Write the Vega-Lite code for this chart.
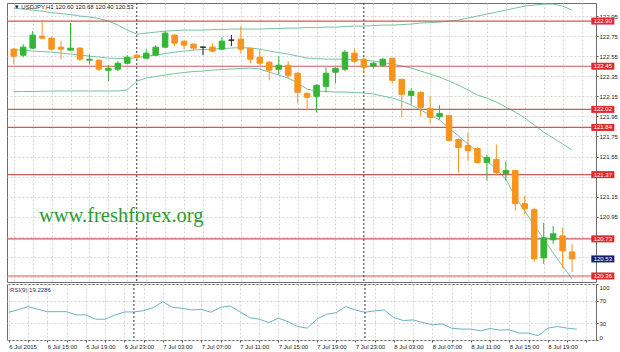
{
  "$schema": "https://vega.github.io/schema/vega-lite/v6.json",
  "background": "white",
  "padding": {"left": 5, "top": 2, "right": 0, "bottom": 0},
  "spacing": 2,
  "bounds": "flush",
  "config": {
    "view": {"stroke": "#6b6b6b", "strokeWidth": 1},
    "font": "Liberation Sans",
    "axis": {"labelFont": "Liberation Sans", "labelFontSize": 6, "labelColor": "#222222", "tickColor": "#555555"}
  },
  "datasets": {
    "candles": [
      {"t": "2015-07-06T11:00", "o": 122.62, "h": 122.63, "l": 122.47, "c": 122.55, "bu": 123.029, "bm": 122.611, "bl": 122.196, "rsi": 49.6},
      {"t": "2015-07-06T12:00", "o": 122.56, "h": 122.67, "l": 122.54, "c": 122.64, "bu": 123.019, "bm": 122.611, "bl": 122.198, "rsi": 54.2},
      {"t": "2015-07-06T13:00", "o": 122.63, "h": 122.80, "l": 122.62, "c": 122.76, "bu": 123.009, "bm": 122.601, "bl": 122.198, "rsi": 59.5},
      {"t": "2015-07-06T14:00", "o": 122.75, "h": 122.91, "l": 122.72, "c": 122.73, "bu": 122.999, "bm": 122.596, "bl": 122.200, "rsi": 54.9},
      {"t": "2015-07-06T15:00", "o": 122.73, "h": 122.74, "l": 122.61, "c": 122.62, "bu": 122.984, "bm": 122.591, "bl": 122.203, "rsi": 50.6},
      {"t": "2015-07-06T16:00", "o": 122.64, "h": 122.70, "l": 122.52, "c": 122.62, "bu": 122.974, "bm": 122.581, "bl": 122.203, "rsi": 50.6},
      {"t": "2015-07-06T17:00", "o": 122.61, "h": 122.88, "l": 122.61, "c": 122.63, "bu": 122.965, "bm": 122.571, "bl": 122.203, "rsi": 50.6},
      {"t": "2015-07-06T18:00", "o": 122.63, "h": 122.64, "l": 122.50, "c": 122.52, "bu": 122.950, "bm": 122.561, "bl": 122.203, "rsi": 44.8},
      {"t": "2015-07-06T19:00", "o": 122.51, "h": 122.57, "l": 122.47, "c": 122.52, "bu": 122.940, "bm": 122.551, "bl": 122.203, "rsi": 44.8},
      {"t": "2015-07-06T20:00", "o": 122.51, "h": 122.52, "l": 122.40, "c": 122.42, "bu": 122.925, "bm": 122.541, "bl": 122.203, "rsi": 37.2},
      {"t": "2015-07-06T21:00", "o": 122.41, "h": 122.46, "l": 122.30, "c": 122.43, "bu": 122.900, "bm": 122.531, "bl": 122.203, "rsi": 37.2},
      {"t": "2015-07-06T22:00", "o": 122.42, "h": 122.50, "l": 122.40, "c": 122.48, "bu": 122.860, "bm": 122.526, "bl": 122.203, "rsi": 44.2},
      {"t": "2015-07-06T23:00", "o": 122.48, "h": 122.56, "l": 122.47, "c": 122.54, "bu": 122.810, "bm": 122.526, "bl": 122.213, "rsi": 50.1},
      {"t": "2015-07-07T00:00", "o": 122.56, "h": 122.57, "l": 122.52, "c": 122.54, "bu": 122.770, "bm": 122.536, "bl": 122.302, "rsi": 50.1},
      {"t": "2015-07-07T01:00", "o": 122.53, "h": 122.62, "l": 122.52, "c": 122.58, "bu": 122.780, "bm": 122.551, "bl": 122.332, "rsi": 52.4},
      {"t": "2015-07-07T02:00", "o": 122.56, "h": 122.66, "l": 122.55, "c": 122.64, "bu": 122.790, "bm": 122.561, "bl": 122.347, "rsi": 57.7},
      {"t": "2015-07-07T03:00", "o": 122.64, "h": 122.80, "l": 122.63, "c": 122.78, "bu": 122.800, "bm": 122.576, "bl": 122.362, "rsi": 68.3},
      {"t": "2015-07-07T04:00", "o": 122.76, "h": 122.77, "l": 122.65, "c": 122.68, "bu": 122.805, "bm": 122.591, "bl": 122.377, "rsi": 58.4},
      {"t": "2015-07-07T05:00", "o": 122.70, "h": 122.70, "l": 122.62, "c": 122.66, "bu": 122.810, "bm": 122.601, "bl": 122.387, "rsi": 56.6},
      {"t": "2015-07-07T06:00", "o": 122.67, "h": 122.68, "l": 122.61, "c": 122.63, "bu": 122.810, "bm": 122.611, "bl": 122.397, "rsi": 53.6},
      {"t": "2015-07-07T07:00", "o": 122.64, "h": 122.645, "l": 122.56, "c": 122.64, "bu": 122.810, "bm": 122.616, "bl": 122.402, "rsi": 54.9},
      {"t": "2015-07-07T08:00", "o": 122.64, "h": 122.68, "l": 122.59, "c": 122.60, "bu": 122.815, "bm": 122.621, "bl": 122.412, "rsi": 49.6},
      {"t": "2015-07-07T09:00", "o": 122.62, "h": 122.74, "l": 122.61, "c": 122.70, "bu": 122.815, "bm": 122.626, "bl": 122.417, "rsi": 58.4},
      {"t": "2015-07-07T10:00", "o": 122.71, "h": 122.76, "l": 122.65, "c": 122.71, "bu": 122.820, "bm": 122.631, "bl": 122.422, "rsi": 60.7},
      {"t": "2015-07-07T11:00", "o": 122.72, "h": 122.85, "l": 122.58, "c": 122.62, "bu": 122.820, "bm": 122.636, "bl": 122.427, "rsi": 50.6},
      {"t": "2015-07-07T12:00", "o": 122.63, "h": 122.63, "l": 122.48, "c": 122.52, "bu": 122.820, "bm": 122.631, "bl": 122.432, "rsi": 40.0},
      {"t": "2015-07-07T13:00", "o": 122.54, "h": 122.62, "l": 122.46, "c": 122.48, "bu": 122.820, "bm": 122.621, "bl": 122.422, "rsi": 37.2},
      {"t": "2015-07-07T14:00", "o": 122.49, "h": 122.50, "l": 122.31, "c": 122.41, "bu": 122.825, "bm": 122.601, "bl": 122.392, "rsi": 31.2},
      {"t": "2015-07-07T15:00", "o": 122.42, "h": 122.55, "l": 122.37, "c": 122.46, "bu": 122.825, "bm": 122.586, "bl": 122.362, "rsi": 38.9},
      {"t": "2015-07-07T16:00", "o": 122.46, "h": 122.50, "l": 122.33, "c": 122.36, "bu": 122.830, "bm": 122.571, "bl": 122.332, "rsi": 32.9},
      {"t": "2015-07-07T17:00", "o": 122.38, "h": 122.39, "l": 122.08, "c": 122.19, "bu": 122.830, "bm": 122.551, "bl": 122.282, "rsi": 24.1},
      {"t": "2015-07-07T18:00", "o": 122.18, "h": 122.19, "l": 122.01, "c": 122.14, "bu": 122.835, "bm": 122.531, "bl": 122.222, "rsi": 21.2},
      {"t": "2015-07-07T19:00", "o": 122.15, "h": 122.27, "l": 121.99, "c": 122.26, "bu": 122.835, "bm": 122.526, "bl": 122.203, "rsi": 37.2},
      {"t": "2015-07-07T20:00", "o": 122.25, "h": 122.44, "l": 122.19, "c": 122.38, "bu": 122.840, "bm": 122.521, "bl": 122.198, "rsi": 46.0},
      {"t": "2015-07-07T21:00", "o": 122.39, "h": 122.44, "l": 122.28, "c": 122.43, "bu": 122.840, "bm": 122.521, "bl": 122.193, "rsi": 48.8},
      {"t": "2015-07-07T22:00", "o": 122.42, "h": 122.61, "l": 122.40, "c": 122.59, "bu": 122.845, "bm": 122.521, "bl": 122.193, "rsi": 59.5},
      {"t": "2015-07-07T23:00", "o": 122.58, "h": 122.62, "l": 122.48, "c": 122.50, "bu": 122.850, "bm": 122.516, "bl": 122.188, "rsi": 53.6},
      {"t": "2015-07-08T00:00", "o": 122.52, "h": 122.54, "l": 122.38, "c": 122.44, "bu": 122.850, "bm": 122.511, "bl": 122.183, "rsi": 49.6},
      {"t": "2015-07-08T01:00", "o": 122.45, "h": 122.49, "l": 122.43, "c": 122.48, "bu": 122.855, "bm": 122.501, "bl": 122.173, "rsi": 51.9},
      {"t": "2015-07-08T02:00", "o": 122.46, "h": 122.53, "l": 122.44, "c": 122.52, "bu": 122.860, "bm": 122.486, "bl": 122.153, "rsi": 53.6},
      {"t": "2015-07-08T03:00", "o": 122.53, "h": 122.53, "l": 122.28, "c": 122.31, "bu": 122.860, "bm": 122.471, "bl": 122.133, "rsi": 40.0},
      {"t": "2015-07-08T04:00", "o": 122.32, "h": 122.32, "l": 121.94, "c": 122.17, "bu": 122.865, "bm": 122.452, "bl": 122.103, "rsi": 34.7},
      {"t": "2015-07-08T05:00", "o": 122.16, "h": 122.23, "l": 122.07, "c": 122.20, "bu": 122.870, "bm": 122.432, "bl": 122.063, "rsi": 35.9},
      {"t": "2015-07-08T06:00", "o": 122.19, "h": 122.20, "l": 121.95, "c": 122.04, "bu": 122.880, "bm": 122.402, "bl": 122.013, "rsi": 31.2},
      {"t": "2015-07-08T07:00", "o": 122.03, "h": 122.15, "l": 121.88, "c": 121.94, "bu": 122.885, "bm": 122.372, "bl": 121.964, "rsi": 27.1},
      {"t": "2015-07-08T08:00", "o": 121.95, "h": 122.06, "l": 121.92, "c": 121.98, "bu": 122.890, "bm": 122.342, "bl": 121.914, "rsi": 28.8},
      {"t": "2015-07-08T09:00", "o": 121.96, "h": 121.96, "l": 121.70, "c": 121.71, "bu": 122.900, "bm": 122.302, "bl": 121.834, "rsi": 21.2},
      {"t": "2015-07-08T10:00", "o": 121.72, "h": 121.73, "l": 121.39, "c": 121.64, "bu": 122.910, "bm": 122.262, "bl": 121.754, "rsi": 19.5},
      {"t": "2015-07-08T11:00", "o": 121.66, "h": 121.79, "l": 121.51, "c": 121.61, "bu": 122.930, "bm": 122.213, "bl": 121.675, "rsi": 19.5},
      {"t": "2015-07-08T12:00", "o": 121.63, "h": 121.64, "l": 121.48, "c": 121.49, "bu": 122.950, "bm": 122.163, "bl": 121.595, "rsi": 16.5},
      {"t": "2015-07-08T13:00", "o": 121.49, "h": 121.57, "l": 121.31, "c": 121.54, "bu": 122.970, "bm": 122.133, "bl": 121.505, "rsi": 20.5},
      {"t": "2015-07-08T14:00", "o": 121.52, "h": 121.67, "l": 121.37, "c": 121.39, "bu": 122.989, "bm": 122.093, "bl": 121.426, "rsi": 17.7},
      {"t": "2015-07-08T15:00", "o": 121.38, "h": 121.50, "l": 121.31, "c": 121.41, "bu": 123.009, "bm": 122.043, "bl": 121.326, "rsi": 18.2},
      {"t": "2015-07-08T16:00", "o": 121.41, "h": 121.42, "l": 121.01, "c": 121.08, "bu": 123.029, "bm": 121.993, "bl": 121.147, "rsi": 12.4},
      {"t": "2015-07-08T17:00", "o": 121.08, "h": 121.16, "l": 120.97, "c": 121.03, "bu": 123.049, "bm": 121.934, "bl": 121.007, "rsi": 12.4},
      {"t": "2015-07-08T18:00", "o": 121.02, "h": 121.04, "l": 120.50, "c": 120.53, "bu": 123.059, "bm": 121.864, "bl": 120.868, "rsi": 7.6},
      {"t": "2015-07-08T19:00", "o": 120.54, "h": 120.89, "l": 120.48, "c": 120.74, "bu": 123.069, "bm": 121.794, "bl": 120.728, "rsi": 21.2},
      {"t": "2015-07-08T20:00", "o": 120.72, "h": 120.86, "l": 120.68, "c": 120.78, "bu": 123.069, "bm": 121.734, "bl": 120.589, "rsi": 24.1},
      {"t": "2015-07-08T21:00", "o": 120.76, "h": 120.84, "l": 120.44, "c": 120.61, "bu": 123.049, "bm": 121.675, "bl": 120.460, "rsi": 21.2},
      {"t": "2015-07-08T22:00", "o": 120.60, "h": 120.68, "l": 120.40, "c": 120.53, "bu": 123.009, "bm": 121.615, "bl": 120.330, "rsi": 19.23}
    ],
    "levels": [
      {"v": 122.90, "kind": "level"},
      {"v": 122.45, "kind": "level"},
      {"v": 122.02, "kind": "level"},
      {"v": 121.84, "kind": "level"},
      {"v": 121.37, "kind": "level"},
      {"v": 120.73, "kind": "level"},
      {"v": 120.36, "kind": "level"},
      {"v": 120.53, "kind": "bid"}
    ],
    "days": [
      {"t": "2015-07-07T00:00"},
      {"t": "2015-07-08T00:00"}
    ]
  },
  "vconcat": [
    {
      "width": 589,
      "height": 279,
      "data": {"name": "candles"},
      "layer": [
        {
          "mark": {"type": "line", "color": "#78c2a2", "strokeWidth": 1, "clip": true},
          "encoding": {
            "x": {"field": "t", "type": "temporal",
              "scale": {"domain": [{"year": 2015, "month": 7, "date": 6, "hours": 10, "minutes": 49}, {"year": 2015, "month": 7, "date": 9, "hours": 0, "minutes": 0}]},
              "axis": {"labels": false, "ticks": false, "domain": false, "grid": true, "gridColor": "#d4d4d4", "gridDash": [2, 2], "title": null,
                "tickCount": 200, "minExtent": 0, "maxExtent": 0, "offset": 0, "labelPadding": 0, "tickSize": 0,
                "values": [
                  {"year": 2015, "month": 7, "date": 6, "hours": 11}, {"year": 2015, "month": 7, "date": 6, "hours": 13}, {"year": 2015, "month": 7, "date": 6, "hours": 15}, {"year": 2015, "month": 7, "date": 6, "hours": 17}, {"year": 2015, "month": 7, "date": 6, "hours": 19}, {"year": 2015, "month": 7, "date": 6, "hours": 21}, {"year": 2015, "month": 7, "date": 6, "hours": 23},
                  {"year": 2015, "month": 7, "date": 7, "hours": 1}, {"year": 2015, "month": 7, "date": 7, "hours": 3}, {"year": 2015, "month": 7, "date": 7, "hours": 5}, {"year": 2015, "month": 7, "date": 7, "hours": 7}, {"year": 2015, "month": 7, "date": 7, "hours": 9}, {"year": 2015, "month": 7, "date": 7, "hours": 11}, {"year": 2015, "month": 7, "date": 7, "hours": 13}, {"year": 2015, "month": 7, "date": 7, "hours": 15}, {"year": 2015, "month": 7, "date": 7, "hours": 17}, {"year": 2015, "month": 7, "date": 7, "hours": 19}, {"year": 2015, "month": 7, "date": 7, "hours": 21}, {"year": 2015, "month": 7, "date": 7, "hours": 23},
                  {"year": 2015, "month": 7, "date": 8, "hours": 1}, {"year": 2015, "month": 7, "date": 8, "hours": 3}, {"year": 2015, "month": 7, "date": 8, "hours": 5}, {"year": 2015, "month": 7, "date": 8, "hours": 7}, {"year": 2015, "month": 7, "date": 8, "hours": 9}, {"year": 2015, "month": 7, "date": 8, "hours": 11}, {"year": 2015, "month": 7, "date": 8, "hours": 13}, {"year": 2015, "month": 7, "date": 8, "hours": 15}, {"year": 2015, "month": 7, "date": 8, "hours": 17}, {"year": 2015, "month": 7, "date": 8, "hours": 19}, {"year": 2015, "month": 7, "date": 8, "hours": 21}, {"year": 2015, "month": 7, "date": 8, "hours": 23}
                ]}},
            "y": {"field": "bu", "type": "quantitative",
              "scale": {"domain": [120.30, 123.08], "zero": false, "nice": false},
              "axis": {"orient": "right", "tickCount": 200, "values": [122.95, 122.75, 122.55, 122.35, 122.15, 121.95, 121.75, 121.55, 121.35, 121.15, 120.95, 120.75, 120.55, 120.35],
                "labelExpr": "((datum.value > 121.3 && datum.value < 121.4) || datum.value < 120.8) ? '' : format(datum.value, '.2f')",
                "labelOverlap": false, "tickSize": 2, "labelPadding": 1, "domain": false, "grid": true, "gridColor": "#d4d4d4", "gridDash": [2, 2], "title": null}}
          }
        },
        {
          "mark": {"type": "line", "color": "#78c2a2", "strokeWidth": 1, "clip": true},
          "encoding": {
            "x": {"field": "t", "type": "temporal"},
            "y": {"field": "bm", "type": "quantitative"}
          }
        },
        {
          "mark": {"type": "line", "color": "#78c2a2", "strokeWidth": 1, "clip": true},
          "encoding": {
            "x": {"field": "t", "type": "temporal"},
            "y": {"field": "bl", "type": "quantitative"}
          }
        },
        {
          "data": {"name": "levels"},
          "transform": [{"filter": "datum.kind == 'level'"}],
          "mark": {"type": "rule", "color": "#cc5a5a", "strokeWidth": 1.2},
          "encoding": {"y": {"field": "v", "type": "quantitative"}}
        },
        {
          "data": {"name": "days"},
          "mark": {"type": "rule", "color": "#333333", "strokeDash": [2, 2], "strokeWidth": 1},
          "encoding": {"x": {"field": "t", "type": "temporal"}}
        },
        {
          "mark": {"type": "rule", "strokeWidth": 1, "clip": true},
          "encoding": {
            "x": {"field": "t", "type": "temporal"},
            "y": {"field": "l", "type": "quantitative"},
            "y2": {"field": "h"},
            "color": {"condition": [{"test": "datum.c == datum.o", "value": "#222222"}, {"test": "datum.c > datum.o", "value": "#35b535"}], "value": "#f7941d"}
          }
        },
        {
          "mark": {"type": "bar", "width": 5.5, "strokeWidth": 1, "clip": true},
          "encoding": {
            "x": {"field": "t", "type": "temporal"},
            "y": {"field": "o", "type": "quantitative"},
            "y2": {"field": "c"},
            "fill": {"condition": [{"test": "datum.c == datum.o", "value": "#222222"}, {"test": "datum.c > datum.o", "value": "#35b535"}], "value": "#f7941d"},
            "stroke": {"condition": [{"test": "datum.c == datum.o", "value": "#222222"}, {"test": "datum.c > datum.o", "value": "#35b535"}], "value": "#f7941d"}
          }
        },
        {
          "data": {"values": [{"label": "▼  USDJPY,H1  120.60 120.68 120.40 120.53"}]},
          "mark": {"type": "text", "align": "left", "baseline": "middle", "fontSize": 6, "color": "#222222"},
          "encoding": {
            "x": {"datum": {"year": 2015, "month": 7, "date": 6, "hours": 11, "minutes": 0}, "type": "temporal"},
            "y": {"datum": 123.045, "type": "quantitative"},
            "text": {"field": "label"}
          }
        },
        {
          "data": {"values": [{"label": "www.freshforex.org"}]},
          "mark": {"type": "text", "align": "left", "baseline": "alphabetic", "fontSize": 20.5, "font": "Liberation Serif", "color": "#2f9a35"},
          "encoding": {
            "x": {"datum": {"year": 2015, "month": 7, "date": 6, "hours": 13, "minutes": 40}, "type": "temporal"},
            "y": {"datum": 120.90, "type": "quantitative"},
            "text": {"field": "label"}
          }
        },
        {
          "data": {"name": "levels"},
          "mark": {"type": "tick", "orient": "horizontal", "size": 23, "thickness": 7, "opacity": 1, "clip": false},
          "encoding": {
            "x": {"datum": {"year": 2015, "month": 7, "date": 9, "hours": 1, "minutes": 15}, "type": "temporal"},
            "y": {"field": "v", "type": "quantitative"},
            "color": {"condition": {"test": "datum.kind == 'bid'", "value": "#14206e"}, "value": "#e02a2a"}
          }
        },
        {
          "data": {"name": "levels"},
          "mark": {"type": "text", "align": "center", "baseline": "middle", "fontSize": 6, "color": "white", "clip": false},
          "encoding": {
            "x": {"datum": {"year": 2015, "month": 7, "date": 9, "hours": 1, "minutes": 15}, "type": "temporal"},
            "y": {"field": "v", "type": "quantitative"},
            "text": {"field": "v", "type": "quantitative", "format": ".2f"}
          }
        }
      ]
    },
    {
      "width": 589,
      "height": 56,
      "data": {"name": "candles"},
      "layer": [
        {
          "mark": {"type": "line", "color": "#6ab2c2", "strokeWidth": 1},
          "encoding": {
            "x": {"field": "t", "type": "temporal",
              "scale": {"domain": [{"year": 2015, "month": 7, "date": 6, "hours": 10, "minutes": 49}, {"year": 2015, "month": 7, "date": 9, "hours": 0, "minutes": 0}]},
              "axis": {"orient": "bottom", "domain": false, "grid": true, "gridColor": "#d4d4d4", "gridDash": [2, 2], "title": null, "tickCount": 200,
                "tickSize": 2, "labelPadding": 1, "labelAlign": "left", "labelBaseline": "top", "labelOverlap": false, "labelFlush": false,
                "labelExpr": "(hours(datum.value) % 4 == 3 && !(date(datum.value) == 8 && hours(datum.value) == 23)) ? ((date(datum.value) == 6 && hours(datum.value) == 11) ? '6 Jul 2015' : timeFormat(datum.value, '%-d %b %H:%M')) : ''",
                "values": [
                  {"year": 2015, "month": 7, "date": 6, "hours": 11}, {"year": 2015, "month": 7, "date": 6, "hours": 13}, {"year": 2015, "month": 7, "date": 6, "hours": 15}, {"year": 2015, "month": 7, "date": 6, "hours": 17}, {"year": 2015, "month": 7, "date": 6, "hours": 19}, {"year": 2015, "month": 7, "date": 6, "hours": 21}, {"year": 2015, "month": 7, "date": 6, "hours": 23},
                  {"year": 2015, "month": 7, "date": 7, "hours": 1}, {"year": 2015, "month": 7, "date": 7, "hours": 3}, {"year": 2015, "month": 7, "date": 7, "hours": 5}, {"year": 2015, "month": 7, "date": 7, "hours": 7}, {"year": 2015, "month": 7, "date": 7, "hours": 9}, {"year": 2015, "month": 7, "date": 7, "hours": 11}, {"year": 2015, "month": 7, "date": 7, "hours": 13}, {"year": 2015, "month": 7, "date": 7, "hours": 15}, {"year": 2015, "month": 7, "date": 7, "hours": 17}, {"year": 2015, "month": 7, "date": 7, "hours": 19}, {"year": 2015, "month": 7, "date": 7, "hours": 21}, {"year": 2015, "month": 7, "date": 7, "hours": 23},
                  {"year": 2015, "month": 7, "date": 8, "hours": 1}, {"year": 2015, "month": 7, "date": 8, "hours": 3}, {"year": 2015, "month": 7, "date": 8, "hours": 5}, {"year": 2015, "month": 7, "date": 8, "hours": 7}, {"year": 2015, "month": 7, "date": 8, "hours": 9}, {"year": 2015, "month": 7, "date": 8, "hours": 11}, {"year": 2015, "month": 7, "date": 8, "hours": 13}, {"year": 2015, "month": 7, "date": 8, "hours": 15}, {"year": 2015, "month": 7, "date": 8, "hours": 17}, {"year": 2015, "month": 7, "date": 8, "hours": 19}, {"year": 2015, "month": 7, "date": 8, "hours": 21}, {"year": 2015, "month": 7, "date": 8, "hours": 23}
                ]}},
            "y": {"field": "rsi", "type": "quantitative",
              "scale": {"domain": [0, 100], "nice": false},
              "axis": {"orient": "right", "values": [0, 30, 70, 100], "format": "d", "tickCount": 200, "labelOverlap": false, "labelFlush": true, "tickSize": 2, "labelPadding": 1, "domain": false, "grid": true, "gridColor": "#d4d4d4", "gridDash": [2, 2], "title": null}}
          }
        },
        {
          "data": {"name": "days"},
          "mark": {"type": "rule", "color": "#333333", "strokeDash": [2, 2], "strokeWidth": 1},
          "encoding": {"x": {"field": "t", "type": "temporal"}}
        },
        {
          "data": {"values": [{"label": "RSI(9) 19.2286"}]},
          "mark": {"type": "text", "align": "left", "baseline": "middle", "fontSize": 6, "color": "#223366"},
          "encoding": {
            "x": {"datum": {"year": 2015, "month": 7, "date": 6, "hours": 11, "minutes": 8}, "type": "temporal"},
            "y": {"datum": 90, "type": "quantitative"},
            "text": {"field": "label"}
          }
        }
      ]
    }
  ]
}
